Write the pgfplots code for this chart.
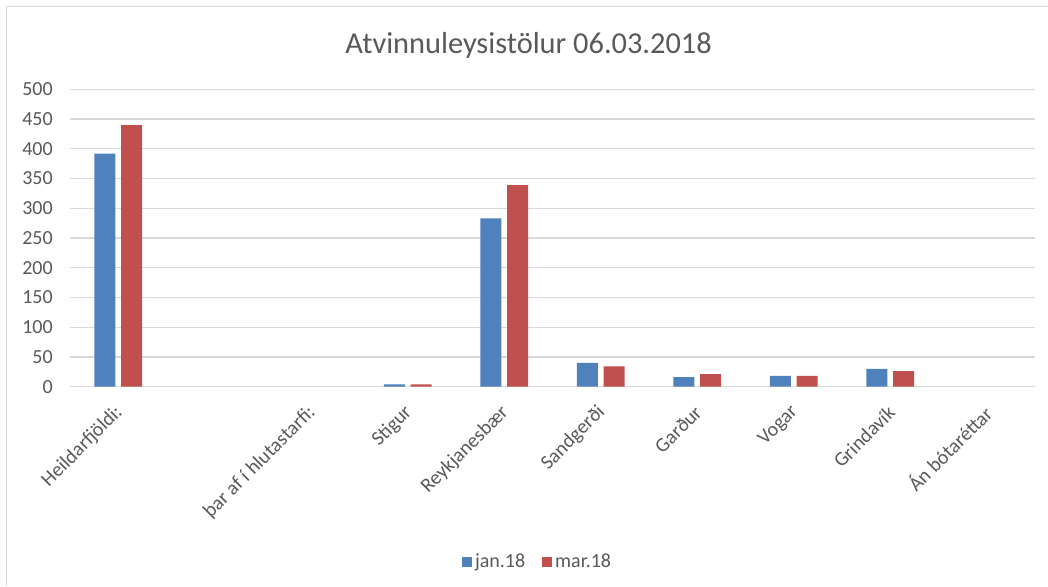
\documentclass[border=0pt]{standalone}
\usepackage{pgfplots}
\pgfplotsset{compat=1.18}
\usepackage{fontspec}
\setmainfont{Carlito}
\definecolor{janblue}{HTML}{4F81BD}
\definecolor{marred}{HTML}{C0504D}
\definecolor{txtgray}{HTML}{595959}
\definecolor{gridgray}{HTML}{D9D9D9}
\definecolor{framegray}{HTML}{D9D9D9}
\begin{document}
\begin{tikzpicture}
\useasboundingbox (-52.5pt,-149.5pt) rectangle (733.5pt,290pt);
\fill[white] (-52.5pt,-149.5pt) rectangle (733.5pt,290pt);
\draw[framegray, line width=1.2pt] (-47.6pt,-149.5pt) -- (-47.6pt,285.1pt) -- (733.5pt,285.1pt);
\node[anchor=base, text=txtgray, font=\fontsize{22.8}{27}\selectfont] at (344pt,250pt) {Atvinnuleysistölur 06.03.2018};
\begin{axis}[
  at={(0pt,0pt)}, anchor=south west,
  scale only axis,
  width=723.75pt, height=223pt,
  xmin=-0.5, xmax=9.5,
  ymin=0, ymax=500,
  ytick={0,50,...,500},
  xtick={0,1,2,3,4,5,6,7,8,9},
  xticklabels={Heildarfjöldi:,{},þar af í hlutastarfi:,Stigur,Reykjanesbær,Sandgerði,Garður,Vogar,Grindavík,Án bótaréttar},
  /pgf/number format/assume math mode=true,
  major tick length=0pt,
  axis lines*=left,
  y axis line style={draw=none},
  x axis line style={gridgray, line width=0.9pt, -},
  ymajorgrids,
  grid style={gridgray, line width=0.9pt},
  tick label style={text=txtgray, font=\fontsize{15}{18}\selectfont},
  yticklabel style={inner sep=0pt, anchor=east, xshift=-12.75pt},
  xticklabel style={inner sep=0pt, xshift=1pt, yshift=-17pt, rotate=45, anchor=east},
  ybar, bar width=15.75pt,
  legend columns=2,
  legend style={at={(0.485,-0.588)}, anchor=center, draw=none, fill=none,
    text=txtgray, font=\fontsize{15}{18}\selectfont,
    /tikz/every even column/.append style={column sep=10pt},
    nodes={inner sep=2.5pt}},
  legend image code/.code={\fill[#1] (0pt,-3.75pt) rectangle (7.5pt,3.75pt);},
  clip=false,
]
\addplot[fill=janblue, draw=none, bar shift=-10pt] coordinates {(0,392) (3,4) (4,283) (5,40) (6,16) (7,18) (8,30)};
\addplot[fill=marred, draw=none, bar shift=10pt] coordinates {(0,440) (3,4) (4,339) (5,34) (6,21) (7,18) (8,26)};
\legend{jan.18, mar.18}
\end{axis}
\end{tikzpicture}
\end{document}
